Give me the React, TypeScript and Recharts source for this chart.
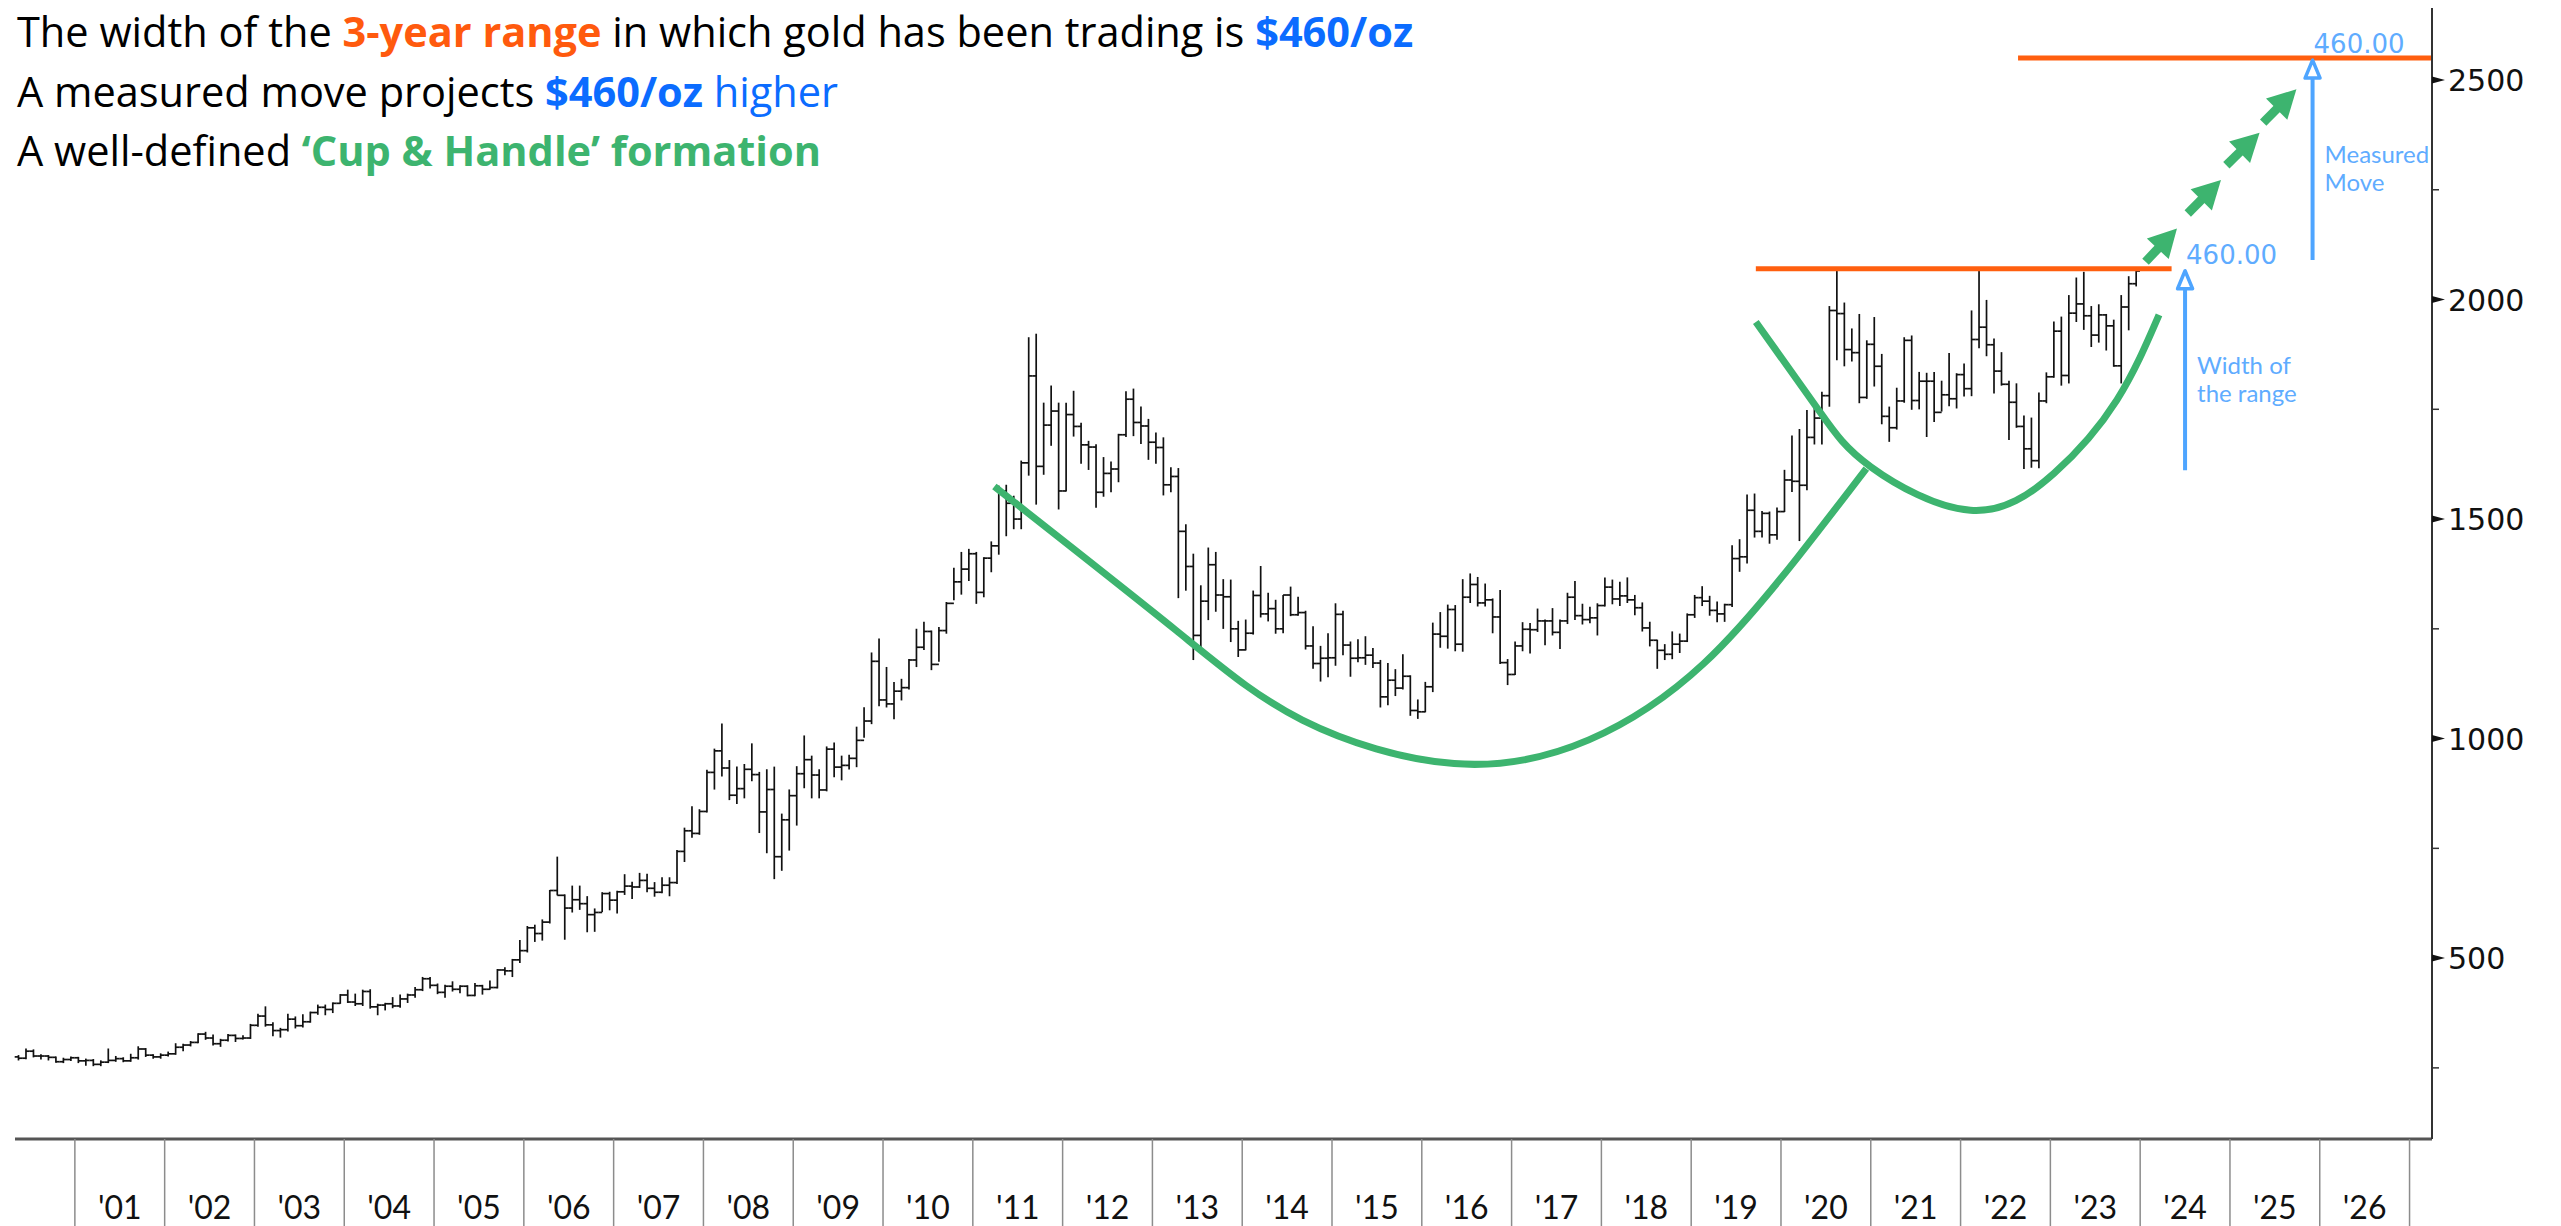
import React from "react";
import { ComposedChart, Bar, XAxis, YAxis, Scatter, ReferenceLine } from "recharts";

// monthly gold bars: [open, high, low, close]
const gold2000 = [ // May..Dec
  [275, 278, 268, 272], [272, 293, 271, 288], [288, 291, 275, 277], [277, 280, 270, 277],
  [277, 278, 268, 274], [274, 275, 263, 264], [264, 272, 262, 269], [269, 275, 267, 273],
];
const gold2001 = [
  [273, 274, 262, 266], [266, 270, 256, 267], [267, 269, 255, 258], [258, 266, 255, 263],
  [263, 293, 262, 267], [267, 276, 265, 271], [271, 273, 264, 266], [266, 281, 265, 273],
  [273, 298, 270, 293], [293, 294, 276, 279], [279, 280, 272, 275], [275, 282, 272, 279],
];
const gold2002 = [
  [279, 286, 277, 282], [282, 305, 281, 297], [297, 304, 289, 302], [302, 310, 300, 308],
  [308, 328, 307, 327], [327, 331, 315, 318], [318, 325, 302, 305], [305, 315, 299, 313],
  [313, 326, 311, 324], [324, 325, 310, 317], [317, 323, 316, 318], [318, 349, 317, 347],
];
const gold2003 = [
  [347, 372, 345, 368], [368, 389, 345, 348], [348, 353, 323, 335], [335, 340, 320, 337],
  [337, 372, 334, 361], [361, 366, 341, 346], [346, 371, 343, 355], [355, 377, 354, 376],
  [376, 393, 372, 388], [388, 393, 371, 383], [383, 398, 376, 397], [397, 417, 397, 416],
];
const gold2004 = [
  [416, 427, 399, 400], [400, 418, 392, 396], [396, 427, 392, 424], [424, 428, 386, 389],
  [389, 395, 371, 393], [393, 397, 382, 396], [396, 410, 387, 391], [391, 416, 388, 407],
  [407, 418, 399, 416], [416, 433, 411, 428], [428, 456, 426, 453], [453, 456, 432, 438],
];
const gold2005 = [
  [438, 441, 419, 422], [422, 438, 411, 436], [436, 446, 425, 429], [429, 437, 421, 436],
  [436, 437, 414, 415], [415, 442, 414, 437], [437, 438, 418, 429], [429, 448, 429, 433],
  [433, 474, 432, 473], [473, 478, 462, 471], [471, 497, 458, 496], [496, 540, 490, 517],
];
const gold2006 = [
  [517, 572, 514, 569], [569, 575, 538, 556], [556, 587, 541, 582], [582, 654, 580, 654],
  [654, 730, 644, 643], [643, 644, 543, 614], [614, 664, 605, 633], [633, 664, 611, 624],
  [624, 640, 560, 599], [599, 612, 561, 604], [604, 649, 606, 647], [647, 650, 610, 632],
];
const gold2007 = [
  [632, 652, 603, 651], [651, 690, 645, 664], [664, 673, 636, 662], [662, 693, 661, 677],
  [677, 691, 651, 659], [659, 672, 641, 650], [650, 683, 649, 666], [666, 683, 642, 672],
  [672, 745, 670, 743], [743, 796, 720, 790], [790, 845, 775, 784], [784, 838, 782, 834],
];
const gold2008 = [
  [834, 928, 833, 923], [923, 976, 885, 972], [972, 1033, 915, 933], [933, 950, 861, 871],
  [871, 935, 852, 886], [886, 941, 865, 930], [930, 988, 904, 918], [918, 923, 786, 833],
  [833, 929, 740, 884], [884, 935, 681, 731], [731, 828, 700, 815], [815, 883, 746, 870],
];
const gold2009 = [
  [870, 936, 803, 920], [920, 1006, 888, 952], [952, 960, 865, 917], [917, 929, 865, 883],
  [883, 981, 881, 976], [976, 990, 913, 935], [935, 960, 906, 939], [939, 962, 931, 955],
  [955, 1026, 936, 996], [996, 1070, 1003, 1040], [1040, 1195, 1034, 1176], [1176, 1227, 1075, 1088],
];
const gold2010 = [
  [1088, 1162, 1072, 1079], [1079, 1128, 1045, 1108], [1108, 1135, 1088, 1116], [1116, 1180, 1113, 1179],
  [1179, 1249, 1164, 1208], [1208, 1265, 1203, 1244], [1244, 1245, 1157, 1169], [1169, 1253, 1176, 1246],
  [1246, 1310, 1240, 1308], [1308, 1388, 1316, 1357], [1357, 1424, 1329, 1386], [1386, 1431, 1360, 1421],
];
const gold2011 = [
  [1421, 1424, 1308, 1333], [1333, 1412, 1323, 1411], [1411, 1448, 1380, 1439], [1439, 1575, 1420, 1564],
  [1564, 1577, 1462, 1536], [1536, 1552, 1478, 1500], [1500, 1632, 1478, 1628], [1628, 1913, 1600, 1826],
  [1826, 1921, 1534, 1620], [1620, 1764, 1602, 1714], [1714, 1803, 1668, 1746], [1746, 1764, 1523, 1564],
];
const gold2012 = [
  [1564, 1764, 1564, 1738], [1738, 1791, 1689, 1711], [1711, 1718, 1627, 1669], [1669, 1677, 1613, 1664],
  [1664, 1669, 1527, 1561], [1561, 1640, 1552, 1604], [1604, 1630, 1562, 1614], [1614, 1693, 1585, 1692],
  [1692, 1790, 1688, 1773], [1773, 1796, 1690, 1720], [1720, 1755, 1672, 1712], [1712, 1727, 1636, 1675],
];
const gold2013 = [
  [1675, 1696, 1627, 1663], [1663, 1685, 1555, 1578], [1578, 1617, 1562, 1597], [1597, 1615, 1321, 1472],
  [1472, 1487, 1338, 1392], [1392, 1420, 1180, 1235], [1235, 1348, 1208, 1313], [1313, 1434, 1271, 1396],
  [1396, 1424, 1290, 1327], [1327, 1362, 1251, 1323], [1323, 1361, 1221, 1250], [1250, 1267, 1187, 1202],
];
const gold2014 = [
  [1202, 1270, 1202, 1240], [1240, 1336, 1238, 1326], [1326, 1392, 1277, 1284], [1284, 1331, 1268, 1296],
  [1296, 1315, 1240, 1250], [1250, 1326, 1241, 1327], [1327, 1345, 1280, 1282], [1282, 1322, 1281, 1287],
  [1287, 1290, 1204, 1211], [1211, 1255, 1160, 1171], [1171, 1210, 1131, 1183], [1183, 1239, 1141, 1184],
];
const gold2015 = [
  [1184, 1307, 1167, 1283], [1283, 1290, 1191, 1213], [1213, 1220, 1142, 1183], [1183, 1225, 1175, 1184],
  [1184, 1232, 1169, 1190], [1190, 1205, 1162, 1172], [1172, 1178, 1072, 1095], [1095, 1171, 1077, 1133],
  [1133, 1157, 1098, 1115], [1115, 1191, 1113, 1142], [1142, 1143, 1053, 1064], [1064, 1088, 1046, 1061],
];
const gold2016 = [
  [1061, 1128, 1061, 1118], [1118, 1263, 1107, 1238], [1238, 1287, 1208, 1233], [1233, 1304, 1206, 1294],
  [1294, 1303, 1200, 1215], [1215, 1362, 1199, 1322], [1322, 1375, 1310, 1351], [1351, 1367, 1302, 1309],
  [1309, 1352, 1302, 1316], [1316, 1318, 1241, 1277], [1277, 1337, 1171, 1173], [1173, 1180, 1123, 1146],
];
const gold2017 = [
  [1146, 1220, 1146, 1211], [1211, 1264, 1200, 1249], [1249, 1262, 1195, 1248], [1248, 1295, 1244, 1268],
  [1268, 1270, 1214, 1268], [1268, 1296, 1236, 1242], [1242, 1270, 1205, 1268], [1268, 1331, 1262, 1322],
  [1322, 1358, 1271, 1280], [1280, 1306, 1261, 1271], [1271, 1299, 1264, 1275], [1275, 1307, 1236, 1303],
];
const gold2018 = [
  [1303, 1366, 1302, 1345], [1345, 1361, 1307, 1318], [1318, 1356, 1303, 1325], [1325, 1366, 1310, 1316],
  [1316, 1326, 1282, 1298], [1298, 1309, 1245, 1252], [1252, 1265, 1211, 1224], [1224, 1224, 1160, 1201],
  [1201, 1214, 1180, 1192], [1192, 1243, 1182, 1215], [1215, 1238, 1196, 1222], [1222, 1284, 1221, 1282],
];
const gold2019 = [
  [1282, 1326, 1276, 1321], [1321, 1346, 1303, 1313], [1313, 1324, 1281, 1292], [1292, 1311, 1266, 1284],
  [1284, 1306, 1267, 1305], [1305, 1439, 1301, 1410], [1410, 1453, 1381, 1414], [1414, 1555, 1400, 1520],
  [1520, 1557, 1459, 1472], [1472, 1517, 1459, 1513], [1513, 1516, 1445, 1464], [1464, 1525, 1454, 1517],
];
const gold2020 = [
  [1517, 1611, 1517, 1589], [1589, 1689, 1563, 1586], [1586, 1704, 1451, 1577], [1577, 1747, 1567, 1686],
  [1686, 1765, 1671, 1730], [1730, 1789, 1671, 1781], [1781, 1984, 1757, 1975], [1975, 2070, 1863, 1968],
  [1968, 1992, 1849, 1886], [1886, 1933, 1860, 1879], [1879, 1966, 1765, 1777], [1777, 1906, 1775, 1898],
];
const gold2021 = [
  [1898, 1959, 1803, 1848], [1848, 1875, 1717, 1734], [1734, 1755, 1677, 1708], [1708, 1798, 1705, 1769],
  [1769, 1913, 1766, 1907], [1907, 1917, 1750, 1770], [1770, 1834, 1751, 1814], [1814, 1832, 1688, 1814],
  [1814, 1834, 1722, 1743], [1743, 1814, 1746, 1783], [1783, 1877, 1758, 1774], [1774, 1831, 1753, 1829],
];
const gold2022 = [
  [1829, 1853, 1780, 1797], [1797, 1974, 1781, 1909], [1909, 2068, 1890, 1937], [1937, 1998, 1872, 1897],
  [1897, 1910, 1787, 1837], [1837, 1879, 1805, 1807], [1807, 1814, 1681, 1766], [1766, 1808, 1709, 1711],
  [1711, 1735, 1615, 1660], [1660, 1730, 1618, 1633], [1633, 1787, 1617, 1769], [1769, 1833, 1765, 1824],
];
const gold2023 = [
  [1824, 1949, 1823, 1928], [1928, 1960, 1805, 1827], [1827, 2009, 1810, 1969], [1969, 2049, 1950, 1990],
  [1990, 2062, 1932, 1963], [1963, 1984, 1893, 1919], [1919, 1988, 1903, 1965], [1965, 1966, 1885, 1940],
  [1940, 1953, 1848, 1849], [1849, 2009, 1810, 1983], [1983, 2052, 1931, 2036], [2036, 2068, 2031, 2065],
];

const goldYears: [number, number[][]][] = [
  [2000, gold2000], [2001, gold2001], [2002, gold2002], [2003, gold2003], [2004, gold2004],
  [2005, gold2005], [2006, gold2006], [2007, gold2007], [2008, gold2008], [2009, gold2009],
  [2010, gold2010], [2011, gold2011], [2012, gold2012], [2013, gold2013], [2014, gold2014],
  [2015, gold2015], [2016, gold2016], [2017, gold2017], [2018, gold2018], [2019, gold2019],
  [2020, gold2020], [2021, gold2021], [2022, gold2022], [2023, gold2023],
];

// green cup and handle curves, [decimal year, price]
const cupPoints = [
  [2011.24, 1574], [2013.26, 1247], [2014.67, 1042], [2016.36, 943],
  [2017.86, 997], [2019.14, 1171], [2020.19, 1414], [2020.95, 1615],
];
const handlePoints = [
  [2019.72, 1949], [2020.42, 1748], [2021.0, 1619], [2022.11, 1520],
  [2023.04, 1604], [2023.74, 1771], [2024.21, 1965],
];
// dashed projection arrows [from year, from price, to year, to price]
const projectionArrows = [
  [2024.06, 2086, 2024.41, 2162],
  [2024.53, 2196, 2024.9, 2272],
  [2024.96, 2306, 2025.33, 2380],
  [2025.37, 2403, 2025.74, 2479],
];
const rangeTop = 2070;
const rangeBottom = 1611;
const targetLevel = 2550;
const measuredBottom = 2090;

const yTicks = [250, 500, 750, 1000, 1250, 1500, 1750, 2000, 2250, 2500];

const W = 2561;
const H = 1226;
const LEFT = 15;
const RIGHT_AXIS_W = 129;
const TOP = 8;
const X_AXIS_H = 87;
const N_MONTHS = 323; // May 2000 .. Mar 2027
const BW = (W - RIGHT_AXIS_W - LEFT) / N_MONTHS;
const T0 = 2000 + 4 / 12;
const T1 = T0 + N_MONTHS / 12;

const GREEN = "#3DB46F";
const ORANGE = "#FF5F0F";
const BLUE = "#4EA5FF";
const BLUE_TEXT = "#5FACFF";

const rows = Array.from({ length: N_MONTHS }, (_, i) => {
  const year = 2000 + Math.floor((4 + i) / 12);
  const month = ((4 + i) % 12) + 1;
  const key = `${year}-${String(month).padStart(2, "0")}`;
  const block = goldYears.find((b) => b[0] === year);
  const bar = block ? block[1][year === 2000 ? month - 5 : month - 1] : undefined;
  if (!bar) return { key };
  const [open, high, low, close] = bar;
  return { key, open, high, low, close, hl: [low, high] };
});

const toPts = (pts: number[][]) => pts.map(([t, v]) => ({ t, v }));

const OhlcShape = (props: any) => {
  const { x, y, width, height, payload } = props;
  if (!payload || payload.high == null) return <g />;
  const top = Math.min(y, y + height);
  const bot = Math.max(y, y + height);
  const span = payload.high - payload.low;
  const toY = (v: number) => (span === 0 ? top : top + ((payload.high - v) / span) * (bot - top));
  const cx = x + width / 2;
  const tk = 3.8;
  return (
    <g stroke="#111" strokeWidth={1.7}>
      <line x1={cx} x2={cx} y1={top - 0.5} y2={bot + 0.5} />
      <line x1={cx - tk} x2={cx} y1={toY(payload.open)} y2={toY(payload.open)} />
      <line x1={cx} x2={cx + tk} y1={toY(payload.close)} y2={toY(payload.close)} />
    </g>
  );
};

const XTick = (props: any) => {
  const { x, y, payload } = props;
  const key = String(payload.value);
  const year = Number(key.slice(0, 4));
  const month = Number(key.slice(5));
  if (month === 1) {
    const lx = x - BW / 2;
    return <line x1={lx} x2={lx} y1={y} y2={y + X_AXIS_H} stroke="#8c8c8c" strokeWidth={1.5} />;
  }
  if (month === 7 && year > 2000) {
    return (
      <text x={x - BW / 2} y={y + 80} textAnchor="middle" fontFamily="Lato" fontSize={32} fill="#111">
        {"'" + key.slice(2, 4)}
      </text>
    );
  }
  return <g />;
};

const YTick = (props: any) => {
  const { x, y, payload } = props;
  const v = payload.value;
  if (v % 500 !== 0) {
    return <line x1={x} x2={x + 7} y1={y} y2={y} stroke="#333" strokeWidth={1.5} />;
  }
  return (
    <g>
      <polygon points={`${x},${y - 3.5} ${x + 13},${y} ${x},${y + 3.5}`} fill="#111" />
      <text x={x + 16} y={y + 11} fontFamily="DejaVu Sans" fontSize={30} fill="#111">
        {v}
      </text>
    </g>
  );
};

const GreenArrow = (p: any) => {
  const { x1, y1, x2, y2 } = p;
  const dx = x2 - x1;
  const dy = y2 - y1;
  const len = Math.hypot(dx, dy) || 1;
  const ux = dx / len;
  const uy = dy / len;
  const L = 28;
  const hw = 15;
  const bx = x2 - ux * L;
  const by = y2 - uy * L;
  return (
    <g>
      <line x1={x1} y1={y1} x2={bx + ux * 2} y2={by + uy * 2} stroke={GREEN} strokeWidth={9} />
      <polygon
        points={`${x2},${y2} ${bx - uy * hw},${by + ux * hw} ${bx + uy * hw},${by - ux * hw}`}
        fill={GREEN}
      />
    </g>
  );
};

const BlueArrow = (lines: string[], value: string) => (p: any) => {
  const { x1, y1, x2, y2 } = p;
  const tipY = Math.min(y1, y2);
  const baseY = Math.max(y1, y2);
  const x = x1;
  return (
    <g>
      <line x1={x} x2={x} y1={baseY} y2={tipY + 19} stroke={BLUE} strokeWidth={4} />
      <polygon
        points={`${x},${tipY + 2} ${x - 7.5},${tipY + 20} ${x + 7.5},${tipY + 20}`}
        fill="#fff"
        stroke={BLUE}
        strokeWidth={3.5}
        strokeLinejoin="round"
      />
      <text x={x + 1} y={tipY - 5} fontFamily="DejaVu Sans" fontSize={26} fill={BLUE_TEXT}>
        {value}
      </text>
      {lines.map((s, i) => (
        <text key={s} x={x + 12} y={tipY + 105 + i * 28} fontFamily="Lato" fontSize={24} fill={BLUE_TEXT}>
          {s}
        </text>
      ))}
    </g>
  );
};

const App = () => {
  return (
    <div style={{ position: "absolute", left: 0, top: 0, width: W, height: H, background: "#fff", overflow: "hidden" }}>
      <ComposedChart
        width={W}
        height={H}
        data={rows}
        margin={{ top: TOP, right: 0, bottom: 0, left: LEFT }}
        barCategoryGap={0}
      >
        <XAxis
          dataKey="key"
          height={X_AXIS_H}
          interval={0}
          tickLine={false}
          tickSize={0}
          tickMargin={0}
          tick={XTick}
          axisLine={{ stroke: "#555", strokeWidth: 3 }}
        />
        <XAxis xAxisId="num" dataKey="t" type="number" domain={[T0, T1]} allowDataOverflow hide />
        <YAxis
          orientation="right"
          width={RIGHT_AXIS_W}
          domain={[88, 2664]}
          allowDataOverflow
          ticks={yTicks}
          interval={0}
          tickLine={false}
          tickSize={0}
          tickMargin={0}
          tick={YTick}
          axisLine={{ stroke: "#333", strokeWidth: 2 }}
        />
        <Bar dataKey="hl" shape={OhlcShape} isAnimationActive={false} />
        <Scatter
          xAxisId="num"
          data={toPts(cupPoints)}
          dataKey="v"
          line={{ stroke: GREEN, strokeWidth: 7 }}
          lineJointType="natural"
          shape={() => <g />}
          isAnimationActive={false}
        />
        <Scatter
          xAxisId="num"
          data={toPts(handlePoints)}
          dataKey="v"
          line={{ stroke: GREEN, strokeWidth: 7 }}
          lineJointType="natural"
          shape={() => <g />}
          isAnimationActive={false}
        />
        <ReferenceLine
          xAxisId="num"
          ifOverflow="visible"
          segment={[{ x: 2019.72, y: rangeTop }, { x: 2024.35, y: rangeTop }]}
          stroke={ORANGE}
          strokeWidth={5}
        />
        <ReferenceLine
          xAxisId="num"
          ifOverflow="visible"
          segment={[{ x: 2022.64, y: targetLevel }, { x: T1, y: targetLevel }]}
          stroke={ORANGE}
          strokeWidth={5}
        />
        {projectionArrows.map(([ta, va, tb, vb], i) => (
          <ReferenceLine
            key={i}
            xAxisId="num"
            ifOverflow="visible"
            segment={[{ x: ta, y: va }, { x: tb, y: vb }]}
            shape={GreenArrow}
          />
        ))}
        <ReferenceLine
          xAxisId="num"
          ifOverflow="visible"
          segment={[{ x: 2024.5, y: rangeBottom }, { x: 2024.5, y: rangeTop }]}
          shape={BlueArrow(["Width of", "the range"], "460.00")}
        />
        <ReferenceLine
          xAxisId="num"
          ifOverflow="visible"
          segment={[{ x: 2025.92, y: measuredBottom }, { x: 2025.92, y: targetLevel }]}
          shape={BlueArrow(["Measured", "Move"], "460.00")}
        />
      </ComposedChart>
      <svg width={W} height={200} style={{ position: "absolute", left: 0, top: 0, pointerEvents: "none" }}>
        <g fontFamily="'Open Sans'" fontSize={41.5} fill="#000">
          <text x={17} y={47}>
            {"The width of the "}
            <tspan fontWeight={700} fill="#FF5A0E">3-year range</tspan>
            {" in which gold has been trading is "}
            <tspan fontWeight={700} fill="#0B6CFF">$460/oz</tspan>
          </text>
          <text x={17} y={107}>
            {"A measured move projects "}
            <tspan fontWeight={700} fill="#0B6CFF">$460/oz</tspan>
            <tspan fill="#0B6CFF">{" higher"}</tspan>
          </text>
          <text x={17} y={166}>
            {"A well-defined "}
            <tspan fontWeight={700} fill={GREEN}>{"\u2018Cup & Handle\u2019 formation"}</tspan>
          </text>
        </g>
      </svg>
    </div>
  );
};

export default App;
